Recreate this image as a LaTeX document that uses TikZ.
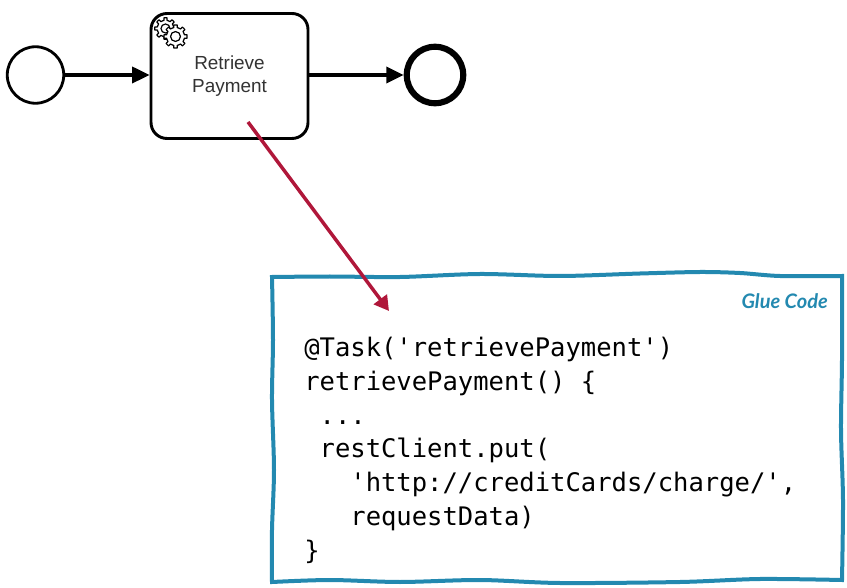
\documentclass[tikz,border=0pt]{standalone}
\usepackage{fontspec}
\usepackage{tikz}
\usetikzlibrary{arrows.meta}
\setmainfont{Liberation Sans}
\newfontfamily\codefont{DejaVu Sans Mono}
\newfontfamily\gluefont{Lato}
\definecolor{glueblue}{HTML}{2389B0}
\definecolor{gluered}{HTML}{B0173A}
\definecolor{tasktext}{HTML}{333333}
\tikzset{
	bpmnevent/.style={circle,draw=black,fill=white,minimum size=56.5*0.75pt,inner sep=0pt},
	startevent/.style={bpmnevent,line width=2.1pt},
	endevent/.style={bpmnevent,line width=4.6pt},
	taskbox/.style={rectangle,rounded corners=12pt,draw=black,fill=white,line width=2.2pt,minimum width=157*0.75pt,minimum height=125*0.75pt,inner sep=0pt,align=center,font=\fontsize{14.2}{17}\selectfont,text=tasktext},
	seqflow/.style={line width=2.6pt,-{Triangle[length=13pt,width=12pt]}},
	gluearrow/.style={line width=2.6pt,draw=gluered,-{Triangle[length=11pt,width=12pt,fill=gluered]}},
	gear/.style={draw=black,fill=white,line width=0.9pt,line join=round},
}
% Roue dentée
\newcommand{\gearshape}[3]{%
	\draw[gear] plot[domain=0:360,samples=129] ({#1+(#3+(cos(8*\x)>0)*2.6)*cos(\x)},{#2+(#3+(cos(8*\x)>0)*2.6)*sin(\x)}) -- cycle;
	\draw[gear] (#1,#2) circle ({#3*0.55});
}
\begin{document}
\begin{tikzpicture}[x=0.75pt,y=-0.75pt]
	%
	% Limites de l'image
	\useasboundingbox (0,0) rectangle (847,588);
	%
	% Processus
	\node[startevent] (startEvt) at (35.5,75) {};
	\node[taskbox] (retrieveTask) at (229.5,76) {Retrieve\\Payment};
	\node[endevent] (endEvt) at (435,75) {};
	\draw[seqflow] (startEvt) -- (retrieveTask.west |- startEvt);
	\draw[seqflow] (retrieveTask.east |- endEvt) -- (endEvt);
	%
	% Icône de la tâche
	\gearshape{165.5}{28.5}{8.2}
	\gearshape{175.5}{36.5}{9}
	%
	% Cadre ondulé
	\draw[line width=3pt,draw=glueblue,line join=miter] plot[smooth,tension=0.5] coordinates {(272,277) (330,276.5) (400,277) (480,274) (560,276) (640,273.5) (700,272) (740,273) (780,276) (842,276)}
		-- plot[smooth,tension=0.5] coordinates {(842,276) (842,360) (841,430) (843,500) (842,580)}
		-- plot[smooth,tension=0.5] coordinates {(842,580) (760,579) (680,582) (560,583) (480,580) (400,582) (330,580) (272,582)}
		-- plot[smooth,tension=0.5] coordinates {(272,582) (272,530) (274,470) (272,400) (273,340) (272,277)} -- cycle;
	\node[anchor=east,inner sep=0pt,text=glueblue,font=\gluefont\bfseries\itshape\fontsize{15}{16}\selectfont] (glueLabel) at (828,301) {Glue Code};
	%
	% Code
	\node[anchor=north west,inner sep=0pt,align=left,font=\codefont\fontsize{19.15}{25.3}\selectfont] (gluePiece) at (304,337) {@Task('retrievePayment')\\retrievePayment() \{\\~...\\~restClient.put(\\~~~'http://creditCards/charge/',\\~~~requestData)\\\}};
	%
	% Flèche rouge
	\coordinate (arrowStart) at (248,122);
	\coordinate (arrowEnd) at (389,311);
	\draw[gluearrow] (arrowStart) -- (arrowEnd);
\end{tikzpicture}
\end{document}
